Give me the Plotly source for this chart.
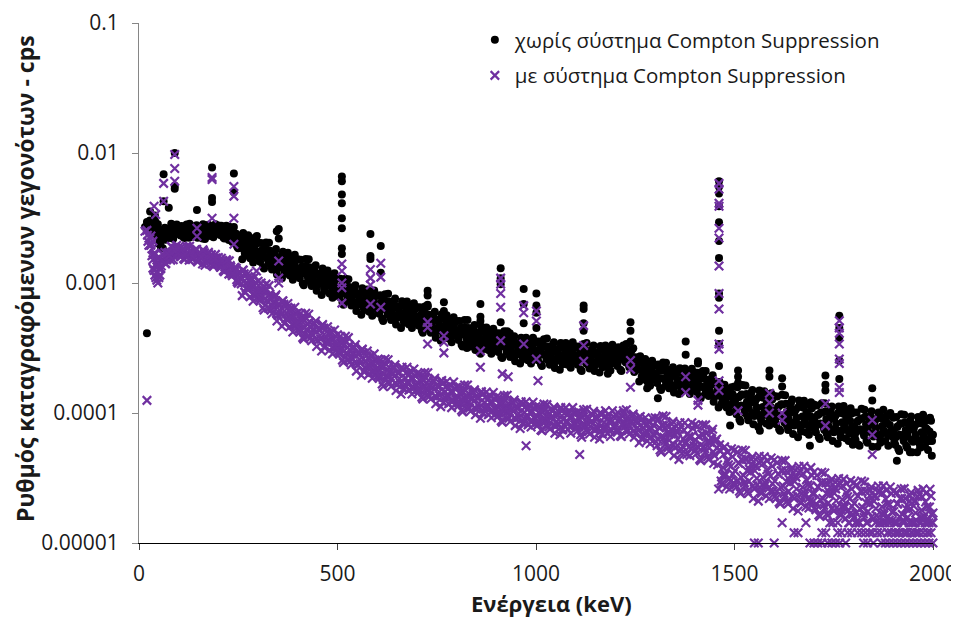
import plotly.graph_objects as go

# Spectrum channel energies (keV): three interleaved channel sets
energy_a_kev = list(range(20, 2001, 5))                  # 20, 25, ... 2000
energy_b_kev = [e + 2.5 for e in range(20, 2000, 5)]     # 22.5, ... 1997.5
energy_c_kev = [e + 1.25 for e in range(20, 2000, 5)]    # 21.25, ... 1996.25

# ---- Count rate WITHOUT Compton suppression (units of 1e-6 cps) ----
rate_without_a = [
    2940, 2560, 2830, 2400, 2990, 2470, 2540, 2090, 2320, 2660, 2300, 2600, 2220, 2720, 2420, 2820,
    2720, 2320, 2580, 2220, 2820, 2420, 2650, 2280, 2520, 2780, 2350, 2600, 2200, 2700, 2400, 2800, 2300, 2550, 2380, 2680,
    2770, 2340, 2580, 2200, 2760, 2330, 2500, 2070, 2220, 2390, 1850, 2210, 1520, 2270, 1770, 2330, 1550, 1890, 1610, 2010,
    2040, 1460, 1780, 1290, 2050, 1510, 1770, 1270, 1550, 1830, 1300, 1570, 1090, 1640, 1280, 1710, 1140, 1390, 1190, 1490,
    1520, 1090, 1330, 960, 1530, 1120, 1320, 950, 1160, 1370, 970, 1170, 810, 1210, 950, 1250, 830, 1010, 860, 1070,
    1090, 780, 940, 680, 1080, 790, 930, 670, 820, 960, 680, 820, 570, 860, 670, 890, 600, 730, 630, 790,
    800, 580, 710, 510, 820, 610, 720, 520, 640, 760, 540, 650, 450, 690, 540, 720, 480, 590, 500, 630,
    650, 470, 570, 415, 660, 490, 570, 415, 510, 600, 425, 515, 360, 540, 425, 565, 375, 460, 395, 490,
    510, 365, 445, 325, 520, 380, 450, 325, 400, 475, 340, 415, 285, 435, 340, 455, 305, 370, 320, 400,
    410, 295, 360, 265, 425, 315, 370, 270, 330, 390, 280, 340, 240, 360, 285, 380, 255, 315, 270, 345,
    355, 255, 315, 230, 370, 275, 325, 235, 295, 350, 250, 305, 215, 325, 260, 345, 235, 290, 250, 315,
    325, 235, 285, 210, 340, 255, 300, 220, 275, 330, 235, 290, 205, 310, 245, 330, 225, 275, 240, 300,
    315, 230, 285, 210, 330, 250, 300, 225, 275, 315, 225, 255, 175, 255, 195, 260, 175, 210, 180, 230,
    235, 170, 210, 150, 245, 180, 215, 155, 190, 225, 160, 200, 140, 210, 165, 220, 150, 180, 155, 195,
    205, 145, 180, 130, 210, 155, 180, 135, 165, 195, 135, 165, 110, 160, 125, 165, 110, 135, 115, 140,
    160, 98, 133, 86, 164, 106, 140, 88, 120, 150, 95, 128, 78, 139, 96, 147, 83, 112, 90, 127,
    135, 82, 112, 73, 138, 89, 118, 74, 100, 127, 80, 107, 65, 117, 81, 124, 71, 95, 77, 109,
    116, 71, 97, 63, 119, 77, 103, 65, 89, 112, 71, 96, 58, 105, 73, 113, 64, 87, 70, 99,
    101, 62, 86, 56, 108, 70, 94, 59, 81, 103, 66, 89, 55, 98, 69, 106, 61, 83, 67, 95,
    92, 57, 78, 51, 98, 64, 85, 54, 74, 94, 60, 81, 50, 89, 62, 97, 55, 75, 61, 87,
    68,
]
rate_without_b = [
    2580, 3030, 2450, 2810, 2550, 2830, 2190, 2320, 2540, 2150, 2580, 2410, 2800, 2320, 2670, 2490,
    2380, 2750, 2250, 2630, 2450, 2850, 2330, 2530, 2700, 2230, 2600, 2400, 2780, 2300, 2650, 2480, 2730, 2250, 2830, 2430,
    2400, 2760, 2240, 2580, 2370, 2710, 2160, 2260, 2350, 1890, 2240, 1860, 2420, 1630, 2130, 1830, 2170, 1440, 2240, 1640,
    1540, 2030, 1330, 1800, 1560, 2040, 1350, 1570, 1750, 1160, 1580, 1330, 1740, 1180, 1550, 1340, 1590, 1060, 1650, 1220,
    1150, 1510, 990, 1340, 1160, 1520, 1010, 1170, 1310, 870, 1180, 990, 1290, 870, 1140, 980, 1160, 770, 1190, 870,
    820, 1080, 710, 950, 820, 1070, 710, 820, 920, 610, 830, 695, 910, 620, 810, 700, 835, 560, 875, 650,
    610, 805, 530, 720, 625, 825, 545, 640, 720, 480, 655, 555, 725, 495, 650, 560, 670, 450, 700, 520,
    490, 650, 430, 580, 500, 660, 435, 510, 575, 380, 520, 440, 575, 390, 515, 445, 525, 350, 545, 405,
    385, 510, 335, 455, 395, 520, 345, 405, 455, 305, 415, 350, 460, 310, 410, 355, 425, 285, 445, 330,
    310, 410, 270, 370, 320, 425, 280, 330, 375, 250, 340, 290, 380, 260, 345, 300, 360, 240, 380, 280,
    270, 355, 237, 325, 282, 375, 250, 295, 335, 222, 308, 262, 346, 237, 315, 275, 330, 223, 350, 260,
    245, 325, 215, 295, 260, 345, 232, 275, 312, 210, 290, 247, 328, 225, 300, 262, 315, 212, 335, 250,
    240, 320, 215, 300, 262, 340, 240, 285, 310, 207, 262, 215, 273, 182, 237, 204, 241, 162, 252, 187,
    179, 236, 156, 213, 184, 243, 163, 191, 216, 144, 198, 167, 221, 151, 199, 173, 208, 140, 219, 162,
    154, 204, 134, 184, 158, 210, 139, 164, 184, 122, 166, 136, 173, 116, 150, 128, 152, 102, 158, 117,
    103, 158, 89, 139, 112, 163, 94, 121, 143, 82, 127, 99, 149, 86, 131, 104, 135, 80, 142, 93,
    87, 134, 75, 117, 94, 137, 79, 102, 120, 69, 106, 83, 125, 72, 110, 87, 116, 68, 121, 80,
    74, 114, 65, 101, 81, 119, 69, 89, 106, 61, 95, 74, 112, 65, 99, 79, 104, 61, 109, 72,
    66, 101, 57, 90, 73, 106, 61, 80, 95, 55, 85, 67, 101, 59, 90, 72, 95, 56, 100, 66,
    60, 93, 53, 83, 67, 97, 56, 73, 87, 50, 79, 62, 93, 54, 83, 66, 88, 52, 92, 61,
]
rate_without_c = [
    2700, 2560, 2940, 2620, 2940, 2270, 2470, 2190, 2510, 2180, 2570, 2480, 2850, 2190, 2550, 2420,
    2500, 2330, 2680, 2430, 2780, 2230, 2580, 2380, 2730, 2280, 2630, 2480, 2830, 2180, 2530, 2400, 2700, 2300, 2600, 2450,
    2540, 2340, 2680, 2400, 2710, 2140, 2430, 2170, 2400, 1960, 2210, 2030, 2260, 1710, 1940, 1800, 2000, 1670, 1860, 1720,
    1730, 1580, 1800, 1600, 1810, 1430, 1630, 1470, 1660, 1370, 1550, 1440, 1620, 1230, 1410, 1320, 1470, 1230, 1370, 1280,
    1290, 1180, 1340, 1190, 1350, 1060, 1220, 1100, 1240, 1020, 1160, 1070, 1200, 910, 1040, 970, 1070, 900, 990, 920,
    920, 840, 950, 850, 950, 750, 850, 770, 870, 710, 810, 750, 850, 640, 740, 690, 770, 650, 730, 680,
    680, 630, 710, 640, 725, 575, 660, 600, 680, 565, 645, 600, 675, 515, 590, 555, 615, 520, 580, 545,
    550, 505, 575, 515, 585, 460, 525, 480, 545, 445, 510, 475, 535, 405, 465, 435, 485, 410, 455, 425,
    430, 395, 450, 405, 455, 360, 415, 380, 430, 355, 405, 380, 425, 325, 375, 350, 390, 330, 370, 345,
    348, 320, 365, 330, 375, 295, 340, 310, 355, 290, 335, 315, 355, 270, 315, 295, 330, 280, 315, 295,
    300, 277, 318, 286, 326, 260, 300, 275, 314, 260, 300, 281, 320, 245, 284, 269, 301, 256, 288, 270,
    272, 252, 290, 263, 300, 240, 278, 256, 294, 245, 283, 267, 305, 235, 272, 259, 291, 248, 280, 264,
    265, 246, 287, 262, 302, 245, 285, 265, 305, 250, 268, 238, 258, 191, 216, 202, 222, 187, 209, 196,
    200, 178, 216, 185, 224, 162, 198, 175, 210, 163, 197, 179, 215, 149, 183, 166, 197, 156, 184, 168,
    172, 154, 186, 160, 193, 140, 170, 151, 181, 139, 167, 149, 173, 116, 139, 125, 146, 114, 134, 121,
    123, 110, 133, 114, 138, 100, 122, 108, 130, 100, 121, 110, 132, 91, 111, 102, 120, 94, 111, 101,
    104, 93, 112, 96, 116, 84, 102, 90, 108, 84, 102, 92, 111, 77, 94, 86, 102, 80, 95, 86,
    89, 80, 97, 83, 101, 74, 90, 80, 97, 75, 91, 83, 100, 70, 85, 78, 93, 73, 87, 79,
    79, 71, 87, 75, 91, 67, 82, 73, 88, 69, 83, 76, 92, 64, 79, 73, 86, 68, 81, 74,
    72, 65, 79, 68, 83, 61, 74, 66, 80, 62, 75, 68, 83, 58, 71, 65, 77, 61, 72, 66,
]

# ---- Count rate WITH Compton suppression (units of 1e-6 cps) ----
rate_with_a = [
    2540, 1950, 1950, 1510, 1700, 1330, 1430, 1290, 1520, 1720, 1510, 1720, 1500, 1870, 1690, 1950,
    1890, 1600, 1770, 1520, 1920, 1640, 1780, 1520, 1670, 1820, 1530, 1670, 1400, 1710, 1500, 1720, 1400, 1530, 1410, 1560,
    1570, 1320, 1440, 1220, 1510, 1270, 1360, 1140, 1220, 1300, 995, 1180, 800, 1180, 910, 1190, 785, 950, 805, 1000,
    1030, 730, 870, 620, 980, 710, 820, 580, 700, 810, 565, 675, 465, 685, 530, 695, 460, 555, 470, 580,
    590, 420, 510, 370, 585, 430, 500, 360, 435, 510, 360, 435, 300, 450, 350, 460, 305, 370, 315, 390,
    400, 285, 340, 245, 390, 280, 330, 235, 285, 335, 235, 285, 195, 290, 225, 300, 200, 240, 205, 255,
    255, 185, 225, 160, 260, 190, 225, 160, 200, 235, 165, 205, 140, 215, 165, 225, 150, 185, 155, 195,
    200, 145, 175, 128, 205, 150, 177, 128, 157, 185, 132, 160, 112, 168, 132, 175, 118, 145, 123, 155,
    158, 114, 140, 102, 164, 120, 142, 103, 128, 151, 107, 131, 91, 138, 109, 145, 97, 120, 103, 129,
    132, 95, 117, 85, 136, 101, 119, 86, 106, 126, 90, 109, 76, 116, 91, 122, 81, 101, 86, 109,
    112, 81, 99, 73, 117, 87, 103, 75, 93, 111, 79, 97, 68, 103, 81, 110, 75, 92, 79, 100,
    100, 73, 89, 65, 106, 79, 94, 69, 86, 103, 74, 91, 63, 97, 77, 104, 70, 87, 74, 94,
    97, 71, 89, 66, 104, 79, 93, 69, 85, 98, 70, 84, 59, 88, 69, 92, 61, 75, 65, 81,
    92, 56, 77, 50, 95, 61, 80, 51, 69, 86, 54, 73, 44, 79, 55, 84, 48, 66, 53, 76,
    81, 49, 66, 43, 81, 53, 70, 44, 59, 75, 47, 63, 26, 51, 33, 55, 27, 40, 30, 46,
    52, 27, 41, 24, 52, 29, 44, 24, 35, 46, 26, 39, 21, 43, 28, 46, 23, 34, 25, 39,
    43.5, 22, 34, 20, 43, 24, 36, 20, 29, 38, 22, 32, 17.6, 36, 24, 39, 19, 28, 21, 33,
    35, 18, 27, 16, 35, 19.5, 29, 16.3, 23.5, 31, 17.6, 26, 14.3, 29, 19, 31, 15.4, 22.7, 16.7, 26,
    29, 14.3, 23, 14.3, 30, 16.7, 25, 14.3, 20, 27, 15.3, 23, 12, 25, 16.8, 27.5, 14.3, 20, 15, 24,
    25, 12, 20, 12, 26, 15, 22, 12, 18, 24.5, 14.3, 21, 12, 23.6, 15.7, 26, 14.3, 19, 14.3, 23,
    17,
]
rate_with_b = [
    2090, 2200, 1620, 1680, 1400, 1550, 1280, 1470, 1640, 1410, 1700, 1610, 1900, 1610, 1860, 1720,
    1640, 1890, 1540, 1790, 1660, 1920, 1560, 1680, 1780, 1450, 1680, 1540, 1760, 1440, 1640, 1510, 1650, 1340, 1660, 1410,
    1360, 1550, 1245, 1420, 1300, 1480, 1180, 1240, 1290, 1020, 1200, 985, 1260, 845, 1090, 930, 1090, 725, 1120, 820,
    770, 1000, 645, 865, 735, 955, 620, 715, 785, 510, 685, 570, 730, 490, 635, 545, 640, 420, 650, 475,
    445, 585, 380, 515, 440, 575, 380, 440, 490, 325, 440, 370, 480, 320, 420, 360, 425, 285, 435, 320,
    300, 390, 255, 340, 290, 380, 250, 290, 320, 210, 285, 240, 310, 210, 275, 235, 275, 185, 285, 205,
    195, 255, 167, 227, 195, 257, 170, 200, 225, 149, 204, 172, 225, 154, 203, 175, 209, 140, 218, 161,
    152, 200, 132, 179, 155, 204, 135, 158, 177, 118, 161, 136, 178, 121, 159, 138, 165, 110, 173, 127,
    120, 159, 105, 144, 125, 164, 109, 129, 145, 97, 132, 111, 146, 100, 132, 115, 137, 92, 144, 106,
    100, 132, 87, 119, 104, 137, 91, 107, 121, 80, 110, 93, 122, 84, 111, 96, 115, 78, 121, 90,
    85, 112, 74, 101, 88, 116, 78, 92, 105, 70, 97, 82, 110, 75, 100, 87, 104, 70, 110, 81,
    77, 102, 68, 93, 81, 107, 72, 85, 97, 65, 90, 76, 101, 69, 93, 81, 97, 66, 104, 77,
    74, 100, 67, 94, 83, 106, 73, 87, 95, 65, 87, 73, 94, 64, 84, 73, 86, 58, 91, 67,
    60, 91, 52, 80, 65, 94, 54, 70, 82, 47, 72, 56, 84, 49, 74, 60, 79, 47, 84, 56,
    52, 79, 44, 69, 55, 81, 46, 60, 71, 41, 62, 40, 57, 28.5, 48, 34, 50, 26, 53, 29,
    28, 50, 25, 44, 33, 51.5, 25, 37, 44, 22, 39, 28, 46.5, 24, 41, 29, 43, 22, 45, 25,
    23, 41.5, 20.6, 36, 27.4, 43, 21, 30.8, 36.5, 18.4, 32.6, 23.2, 38.8, 20.2, 34.3, 24.1, 35.9, 18.6, 38, 20.8,
    18.6, 33, 16.4, 29, 22, 34.5, 16.8, 24.8, 29.5, 14.3, 26.4, 18.7, 31.3, 16.3, 27.6, 19.3, 28.7, 14.3, 30.2, 16.6,
    15.8, 28, 14.3, 25, 18.8, 29.4, 14.3, 21.3, 25.5, 12, 22.9, 16.3, 27.4, 14.3, 24.3, 17.1, 25.5, 12, 27, 14.9,
    14.3, 24.5, 12, 21.9, 16.6, 26.2, 12, 19.2, 23.1, 12, 21, 15, 25.4, 14.3, 22.7, 16.1, 24.1, 12, 25.9, 14.3,
]
rate_with_c = [
    2330, 1950, 2020, 1650, 1670, 1220, 1390, 1350, 1640, 1410, 1690, 1630, 1920, 1510, 1780, 1680,
    1730, 1600, 1840, 1660, 1890, 1500, 1730, 1590, 1800, 1490, 1710, 1590, 1800, 1370, 1580, 1480, 1640, 1380, 1540, 1430,
    1440, 1320, 1490, 1330, 1490, 1170, 1320, 1190, 1320, 1060, 1210, 1070, 1250, 850, 1010, 900, 1050, 815, 950, 855,
    870, 760, 900, 755, 900, 640, 765, 660, 780, 585, 685, 610, 725, 490, 585, 525, 615, 475, 555, 495,
    500, 442, 530, 450, 538, 387, 464, 406, 484, 370, 441, 396, 471, 322, 388, 350, 409, 319, 371, 333,
    337, 297, 354, 299, 357, 255, 305, 266, 316, 241, 287, 257, 305, 208, 251, 227, 264, 206, 241, 215,
    217, 193, 232, 198, 238, 172, 208, 183, 220, 169, 203, 184, 221, 153, 186, 169, 199, 157, 184, 167,
    170, 151, 183, 156, 188, 136, 164, 145, 174, 134, 161, 145, 175, 120, 146, 133, 157, 124, 145, 132,
    134, 120, 145, 124, 151, 109, 132, 117, 141, 109, 131, 119, 143, 99, 120, 110, 130, 102, 121, 110,
    112, 100, 121, 104, 125, 91, 110, 98, 118, 91, 109, 99, 119, 83, 101, 92, 109, 86, 102, 93,
    95, 85, 104, 89, 108, 79, 96, 85, 103, 80, 97, 89, 107, 74, 91, 84, 99, 78, 93, 85,
    87, 78, 95, 82, 100, 73, 89, 79, 96, 74, 90, 82, 99, 69, 84, 77, 91, 72, 86, 79,
    82, 75, 92, 81, 100, 73, 88, 79, 95, 73, 87, 77, 93, 63, 77, 70, 82, 64, 76, 69,
    71, 63, 77, 66, 80, 58, 70, 62, 75, 57, 68, 63, 75, 52, 63, 58, 69, 55, 66, 60,
    62, 55, 66, 57, 68, 50, 60, 54, 64, 50, 60, 54, 52, 30, 38, 33, 43, 31, 39, 34,
    36, 30, 41, 32, 43, 27.5, 36, 30, 40, 27.4, 36, 31.4, 41.6, 24.8, 32, 27.5, 36.6, 26.4, 32.8, 28.6,
    30, 25, 34, 27, 36, 22.8, 29.6, 25, 33, 22.7, 29.8, 26, 34.7, 20.7, 26.8, 23, 30.6, 22, 27.5, 24,
    24, 20, 27, 21.5, 29, 18.4, 24, 20.3, 27, 18.4, 24.2, 21.1, 28, 16.7, 21.6, 18.5, 24.5, 17.7, 22, 19.2,
    20.2, 17, 23, 18.3, 24.8, 15.7, 20.5, 17.5, 23.2, 15.9, 21, 18.4, 24.6, 14.3, 19, 16.4, 21.8, 15.8, 19.8, 17.3,
    17.5, 14.3, 20, 16, 22, 14.3, 18.4, 15.8, 21, 14.3, 19.3, 17, 22.8, 14.3, 17.9, 15.4, 20.7, 15, 18.9, 16.6,
]

# ---- Peak / outlier channels: energy (keV), rate (1e-6 cps) ----
extra_energy_without = [
    15, 20, 28, 40, 50, 55, 60, 62, 62, 75, 90, 90, 90, 146, 184, 184, 184, 239, 239, 239,
    297, 347, 352, 352, 511, 511, 511, 511, 511, 511, 511, 511, 583, 583, 583, 609, 609,
    727, 727, 727, 768, 768, 860, 860, 860, 911, 911, 911, 911, 934, 969, 969, 969,
    1001, 1001, 1001, 1001, 1120, 1120, 1120, 1120, 1238, 1238, 1238, 1377, 1377, 1408, 1408,
    1461, 1461, 1461, 1461, 1461, 1461, 1461, 1461, 1461, 1461, 1461, 1461,
    1509, 1509, 1509, 1588, 1588, 1620, 1620, 1729, 1729, 1729, 1764, 1764, 1764, 1764, 1764,
    1847, 1847, 1489, 1564, 1690, 1798, 1909, 1942, 1997, 1181, 1307, 1280, 982, 826,
]
extra_rate_without = [
    2700, 410, 3550, 3300, 2000, 1900, 1850, 4250, 6850, 3800, 10000, 5300, 5600, 3650, 7750, 4500, 4200, 6950, 5000, 2700,
    2300, 2500, 2200, 2600, 6600, 6050, 4800, 4100, 3150, 2640, 1850, 1670, 2380, 1610, 1530, 1930, 1200,
    870, 800, 680, 710, 610, 690, 550, 510, 1300, 1090, 980, 500, 410, 900, 690, 490,
    830, 670, 590, 450, 670, 630, 490, 430, 500, 430, 355, 355, 280, 250, 240,
    6050, 5500, 4870, 3900, 2930, 2100, 1560, 830, 770, 430, 340, 230,
    212, 190, 170, 212, 190, 185, 160, 194, 165, 149, 559, 450, 380, 253, 183,
    155, 125, 80, 73, 56, 57, 43, 50, 47, 200, 130, 155, 253, 316,
]
extra_energy_with = [
    15, 20, 30, 35, 40, 45, 50, 35, 42.5, 47.5, 52.5, 37.5, 38, 42, 62, 62, 90, 90, 90, 146, 146, 184, 184, 184,
    239, 239, 239, 239, 296, 352, 352, 352, 511, 511, 511, 511, 511, 583, 583, 583, 583,
    609, 609, 609, 727, 727, 727, 768, 768, 768, 860, 860, 911, 911, 911, 911, 911, 915, 930,
    969, 969, 969, 975, 1001, 1001, 1001, 1005, 1110, 1120, 1120, 1120, 1238, 1238, 1238,
    1377, 1377, 1408, 1408, 1461, 1461, 1461, 1461, 1461, 1461, 1461, 1461, 1461, 1461, 1461, 1461, 1461,
    1509, 1588, 1588, 1588, 1620, 1620, 1729, 1729, 1764, 1764, 1764, 1764, 1764, 1764, 1764, 1764,
    1847, 1847, 1847,
]
extra_rate_with = [
    2500, 125, 2300, 2100, 1150, 1050, 1100, 1300, 1100, 1000, 1150, 1250, 3890, 3370, 5840, 4250, 9740, 7600, 6060, 2640, 2290, 6480, 6250, 3150,
    5520, 4660, 3150, 1985, 1235, 1090, 1000, 1475, 1400, 1235, 1000, 920, 700, 1270, 1090, 965, 690,
    1420, 1110, 650, 500, 455, 340, 393, 350, 290, 300, 225, 1090, 980, 830, 650, 360, 200, 190,
    670, 590, 340, 56, 610, 510, 260, 177, 48, 470, 330, 250, 253, 217, 158,
    190, 144, 125, 115, 5840, 5270, 4100, 3890, 2640, 2220, 1350, 830, 630, 340, 310, 177, 149,
    104, 142, 120, 100, 100, 88, 118, 80, 512, 450, 410, 340, 260, 240, 157, 144,
    88, 68, 48,
]

# Low-count channels with suppression (quantised rate levels at high energy)
low_energy_with = [
    1550, 1560, 1600, 1690, 1700, 1710, 1720, 1735, 1745, 1755, 1765, 1780, 1825, 1835, 1850,
    1870, 1880, 1890, 1900, 1910, 1920, 1930, 1940, 1950, 1960, 1970, 1980, 1990, 2000,
    1650, 1660, 1720, 1730, 1760, 1770, 1785, 1795, 1810, 1820, 1830, 1840, 1860, 1870,
    1885, 1895, 1905, 1915, 1925, 1935, 1945, 1955, 1965, 1975, 1985, 1995,
    1620, 1680, 1740, 1790, 1805, 1815, 1855, 1865, 1875, 1890, 1910, 1925, 1940, 1955, 1970, 1985, 2000,
]
low_rate_with = [
    10, 10, 10, 10, 10, 10, 10, 10, 10, 10, 10, 10, 10, 10, 10,
    10, 10, 10, 10, 10, 10, 10, 10, 10, 10, 10, 10, 10, 10,
    12, 12, 12, 12, 12, 12, 12, 12, 12, 12, 12, 12, 12, 12,
    12, 12, 12, 12, 12, 12, 12, 12, 12, 12, 12, 12,
    14.3, 14.3, 14.3, 14.3, 14.3, 14.3, 14.3, 14.3, 14.3, 14.3, 14.3, 14.3, 14.3, 14.3, 14.3, 14.3, 14.3,
]

y_tick_values = [1e-5, 1e-4, 1e-3, 1e-2, 1e-1]
y_tick_labels = ["0.00001", "0.0001", "0.001", "0.01", "0.1"]
x_tick_values = [0, 500, 1000, 1500, 2000]

assert len(energy_a_kev) == len(rate_without_a) == len(rate_with_a), (len(rate_without_a), len(rate_with_a))
assert len(energy_b_kev) == len(rate_without_b) == len(rate_with_b), (len(rate_without_b), len(rate_with_b))
assert len(energy_c_kev) == len(rate_without_c) == len(rate_with_c), (len(rate_without_c), len(rate_with_c))
assert len(extra_energy_without) == len(extra_rate_without)
assert len(extra_energy_with) == len(extra_rate_with)
assert len(low_energy_with) == len(low_rate_with)

UNIT = 1e-6  # the rate lists above are in micro-cps

x_without = energy_a_kev + energy_b_kev + energy_c_kev + extra_energy_without
y_without = [v * UNIT for v in rate_without_a + rate_without_b + rate_without_c + extra_rate_without]
x_with = energy_a_kev + energy_b_kev + energy_c_kev + extra_energy_with + low_energy_with
y_with = [v * UNIT for v in rate_with_a + rate_with_b + rate_with_c + extra_rate_with + low_rate_with]

FONT = "Open Sans"
TEXT = "#1a1a1a"
PURPLE = "#7030A0"

fig = go.Figure()
fig.add_trace(go.Scatter(
    x=x_without, y=y_without, mode="markers",
    name="χωρίς σύστημα Compton Suppression", legendgroup="a",
    marker=dict(symbol="circle", size=8, color="black"),
    cliponaxis=False,
))
fig.add_trace(go.Scatter(
    x=x_with, y=y_with, mode="markers",
    name="με σύστημα Compton Suppression", legendgroup="b",
    marker=dict(symbol="x-thin", size=8.5, color=PURPLE, line=dict(color=PURPLE, width=2.2)),
    cliponaxis=False,
))

# The page body adds an 8 px offset; the figure is sized so the plot lands where the reference has it.
fig.update_layout(
    width=951, height=609,
    margin=dict(l=131, r=26, t=13, b=74),
    paper_bgcolor="white", plot_bgcolor="white",
    font=dict(family=FONT, size=21, color=TEXT),
    showlegend=True,
    legend=dict(
        x=0.423, y=1.006, xanchor="left", yanchor="top",
        bgcolor="rgba(0,0,0,0)", font=dict(family=FONT, size=20.5, color=TEXT),
        tracegroupgap=6,
    ),
    xaxis=dict(
        range=[0, 2000], tickvals=x_tick_values, ticks="outside", ticklen=6,
        tickcolor="#404040", showline=True, linecolor="black", linewidth=1,
        showgrid=False, zeroline=False, ticklabelstandoff=6, automargin=False,
        tickfont=dict(family=FONT, size=21, color=TEXT),
    ),
    yaxis=dict(
        type="log", range=[-5, -1], tickvals=y_tick_values, ticktext=y_tick_labels,
        ticks="outside", ticklen=6, tickcolor="#868686", showline=True,
        linecolor="#868686", linewidth=1, showgrid=False, zeroline=False,
        ticklabelstandoff=9, automargin=False,
        tickfont=dict(family=FONT, size=21, color=TEXT),
    ),
    annotations=[
        dict(text="<b>Ενέργεια (keV)</b>", xref="paper", yref="paper",
             x=(551 - 139) / 794, y=(543 - 603) / 522, xanchor="center", yanchor="middle",
             showarrow=False, font=dict(family=FONT, size=22, color=TEXT)),
        dict(text="<b>Ρυθμός καταγραφόμενων γεγονότων - cps</b>", xref="paper", yref="paper",
             x=(25 - 139) / 794, y=(543 - 278) / 522, xanchor="center", yanchor="middle",
             textangle=-90, showarrow=False, font=dict(family=FONT, size=23, color=TEXT)),
    ],
)

fig.write_html("out.html")
